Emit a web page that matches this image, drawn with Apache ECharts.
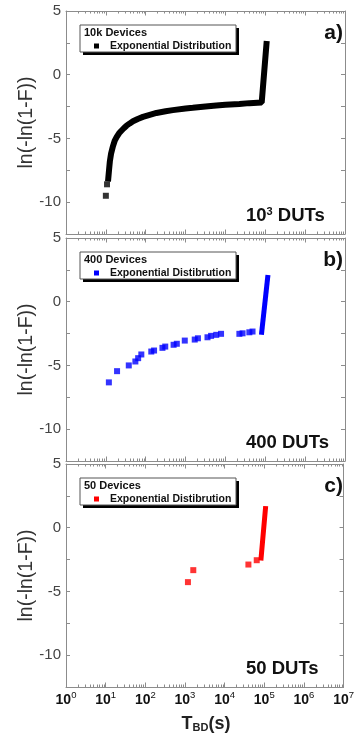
<!DOCTYPE html>
<html><head><meta charset="utf-8">
<script src="https://cdn.jsdelivr.net/npm/echarts@6/dist/echarts.min.js"></script>
<style>html,body{margin:0;padding:0;background:#fff}#c{width:357px;height:742px}</style>
</head><body><div id="c"></div>
<script>
// ---- tick labels ----
const xMajorExponents = [0, 1, 2, 3, 4, 5, 6, 7];
const xExponentLabels = ['0', '1', '2', '3', '4', '5', '6', '7'];
const yTickLabels = [5, 0, -5, -10];

// ---- panel texts ----
const legendTitles = ['10k Devices', '400 Devices', '50 Devices'];
const legendEntries = ['Exponential Distribution', 'Exponential Distibrution', 'Exponential Distibrution'];
const panelTags = ['a)', 'b)', 'c)'];
const dutBase = ['10', '400', '50'];
const dutSup = ['3', '', ''];
const seriesColors = ['#000000', '#0000ff', '#ff0000'];

// ---- panel a: 10k devices (10^3 DUTs) ----
const aIsolatedT = [10.0, 10.7];
const aIsolatedY = [-9.5, -8.6];
const aCurveT = [11.5, 12.0, 12.6, 13.5, 15.1, 16.6, 18.6, 21.4, 24.5, 28.2, 33.1, 39.8, 47.9, 63.1, 85.1, 126, 186, 316, 479, 1000, 1514, 3162, 5888, 10000, 22387, 39811, 81283, 107152];
const aCurveY = [-8.15, -7.5, -6.8, -6.2, -5.6, -5.2, -4.9, -4.6, -4.4, -4.2, -4.0, -3.82, -3.65, -3.47, -3.31, -3.15, -3.0, -2.87, -2.78, -2.65, -2.6, -2.5, -2.42, -2.36, -2.29, -2.23, -2.18, 2.42];

// ---- panel b: 400 devices ----
const bPointsT = [11.9, 19.1, 37.6, 55, 64.6, 77.6, 138, 162, 263, 309, 501, 603, 955, 1698, 2042, 3548, 4365, 5888, 7762, 22387, 26915, 39811, 47863];
const bPointsY = [-6.33, -5.45, -5.0, -4.69, -4.43, -4.14, -3.91, -3.83, -3.62, -3.52, -3.38, -3.30, -3.05, -2.97, -2.87, -2.79, -2.68, -2.60, -2.52, -2.52, -2.48, -2.40, -2.34];
const bRiseT = [81283, 114815];
const bRiseY = [-2.4, 1.9];

// ---- panel c: 50 devices ----
const cPointsT = [1189, 1622, 39811, 64565];
const cPointsY = [-4.27, -3.33, -2.89, -2.55];
const cRiseT = [83176, 107152];
const cRiseY = [-2.37, 1.5];

const pairs = (xs, ys) => xs.map((x, i) => [x, ys[i]]);

const FONT = 'Arial, "Liberation Sans", sans-serif';
const AXIS_GRAY = '#8c8c8c';
const gridTops = [11, 238, 464];
const gridH = 223;
const gridLeft = 66, gridRight = 12;

// decoration-only tick positions (decade exponent space) for the minor ticks 2..9
const xMinorPositions = [];
for (let d = 0; d < 7; d++) for (let k = 2; k <= 9; k++) xMinorPositions.push(d + Math.log10(k));

const grids = [], xAxes = [], yAxes = [], graphics = [];

function decoAxis(gi, pos, minor, showLine, showLabel) {
  return {
    type: 'value', min: 0, max: 7, interval: 1, gridIndex: gi, position: pos,
    axisLine: { show: showLine, onZero: false, lineStyle: { color: AXIS_GRAY, width: 1 } },
    axisTick: minor
      ? { show: true, inside: true, length: 2.5, customValues: xMinorPositions, lineStyle: { color: AXIS_GRAY } }
      : { show: true, inside: true, length: 4.5, lineStyle: { color: AXIS_GRAY } },
    axisLabel: showLabel ? {
      show: true, margin: 3,
      formatter: v => '{b|10}{s|' + xExponentLabels[xMajorExponents.indexOf(Math.round(v))] + '}',
      rich: {
        b: { fontFamily: FONT, fontSize: 14, fontWeight: 'bold', color: '#111', padding: [3, 0, 0, 0] },
        s: { fontFamily: FONT, fontSize: 9.5, color: '#111', verticalAlign: 'top' }
      }
    } : { show: false },
    splitLine: { show: false }
  };
}

for (let i = 0; i < 3; i++) {
  grids.push({ left: gridLeft, right: gridRight, top: gridTops[i], height: gridH, containLabel: false });
  // data axis (log scale), drawn invisibly; decoration axes draw frame, ticks and labels
  xAxes.push({
    type: 'log', logBase: 10, min: 1, max: 1e7, gridIndex: i, position: 'bottom',
    axisLine: { show: false }, axisTick: { show: false }, axisLabel: { show: false }, splitLine: { show: false }
  });
  xAxes.push(decoAxis(i, 'bottom', false, true, i === 2));
  xAxes.push(decoAxis(i, 'bottom', true, false, false));
  xAxes.push(decoAxis(i, 'top', false, true, false));
  xAxes.push(decoAxis(i, 'top', true, false, false));
  const yBase = {
    type: 'value', min: -12.5, max: 5, interval: 2.5, gridIndex: i,
    axisLine: { show: true, onZero: false, lineStyle: { color: AXIS_GRAY } },
    axisTick: { show: true, inside: true, length: 4, lineStyle: { color: AXIS_GRAY } },
    splitLine: { show: false }
  };
  yAxes.push(Object.assign({}, yBase, {
    position: 'left',
    axisLabel: {
      show: true, margin: 5, fontFamily: FONT, fontSize: 15, color: '#444',
      formatter: v => yTickLabels.indexOf(v) >= 0 ? String(v) : ''
    }
  }));
  yAxes.push(Object.assign({}, yBase, { position: 'right', axisLabel: { show: false } }));

  const top = gridTops[i];
  const bottom = top + gridH;
  const cy = top + gridH / 2;
  graphics.push({
    type: 'text', x: 26.5, y: cy, rotation: Math.PI / 2,
    style: { text: 'ln(-ln(1-F))', fontFamily: FONT, fontSize: 19.5, fill: '#333', align: 'center', verticalAlign: 'middle' }
  });
  const lx = 80, ly = top + 14, lw = 156, lh = 27;
  graphics.push({ type: 'rect', shape: { x: lx + 3, y: ly + 3, width: lw, height: lh }, style: { fill: '#000' } });
  graphics.push({ type: 'rect', shape: { x: lx, y: ly, width: lw, height: lh }, style: { fill: '#fff', stroke: '#555', lineWidth: 1 } });
  graphics.push({ type: 'text', x: lx + 4, y: ly + 8, style: { text: legendTitles[i], fontFamily: FONT, fontSize: 11, fontWeight: 'bold', fill: '#111', align: 'left', verticalAlign: 'middle' } });
  graphics.push({ type: 'rect', shape: { x: lx + 14, y: ly + 18.5, width: 5, height: 5 }, style: { fill: seriesColors[i] } });
  graphics.push({ type: 'text', x: lx + 30, y: ly + 21, style: { text: legendEntries[i], fontFamily: FONT, fontSize: 10.5, fontWeight: 'bold', fill: '#111', align: 'left', verticalAlign: 'middle' } });
  graphics.push({ type: 'text', x: 343, y: top + 22, style: { text: panelTags[i], fontFamily: FONT, fontSize: 21, fontWeight: 'bold', fill: '#111', align: 'right', verticalAlign: 'middle' } });
  const dutText = dutSup[i] ? '{b|' + dutBase[i] + '}{s|' + dutSup[i] + '}{b| DUTs}' : '{b|' + dutBase[i] + ' DUTs}';
  graphics.push({
    type: 'text', x: 246, y: bottom - 18,
    style: {
      text: dutText, align: 'left', verticalAlign: 'middle',
      rich: {
        b: { fontFamily: FONT, fontSize: 18.5, fontWeight: 'bold', fill: '#111' },
        s: { fontFamily: FONT, fontSize: 11, fontWeight: 'bold', fill: '#111', verticalAlign: 'top' }
      }
    }
  });
}

graphics.push({
  type: 'text', x: 206, y: 724,
  style: {
    text: '{t|T}{s|BD}{t|(s)}', align: 'center', verticalAlign: 'middle',
    rich: {
      t: { fontFamily: FONT, fontSize: 18, fontWeight: 'bold', fill: '#222' },
      s: { fontFamily: FONT, fontSize: 11, fontWeight: 'bold', fill: '#222', verticalAlign: 'bottom', padding: [8, 0, 0, 0] }
    }
  }
});

const series = [
  { type: 'scatter', xAxisIndex: 0, yAxisIndex: 0, data: pairs(aIsolatedT, aIsolatedY), symbol: 'rect', symbolSize: 6, itemStyle: { color: seriesColors[0] } },
  { type: 'line', xAxisIndex: 0, yAxisIndex: 0, data: pairs(aCurveT, aCurveY), showSymbol: false, symbol: 'none', lineStyle: { color: seriesColors[0], width: 6, cap: 'square' } },
  { type: 'scatter', xAxisIndex: 5, yAxisIndex: 2, data: pairs(bPointsT, bPointsY), symbol: 'rect', symbolSize: 6, itemStyle: { color: seriesColors[1] } },
  { type: 'line', xAxisIndex: 5, yAxisIndex: 2, data: pairs(bRiseT, bRiseY), showSymbol: false, symbol: 'none', lineStyle: { color: seriesColors[1], width: 5, cap: 'square' } },
  { type: 'scatter', xAxisIndex: 10, yAxisIndex: 4, data: pairs(cPointsT, cPointsY), symbol: 'rect', symbolSize: 6, itemStyle: { color: seriesColors[2] } },
  { type: 'line', xAxisIndex: 10, yAxisIndex: 4, data: pairs(cRiseT, cRiseY), showSymbol: false, symbol: 'none', lineStyle: { color: seriesColors[2], width: 5, cap: 'square' } }
];

const chart = echarts.init(document.getElementById('c'), null, { renderer: 'canvas' });
chart.setOption({
  animation: false,
  backgroundColor: '#fff',
  grid: grids, xAxis: xAxes, yAxis: yAxes, series: series, graphic: graphics
});
</script>
</body></html>
